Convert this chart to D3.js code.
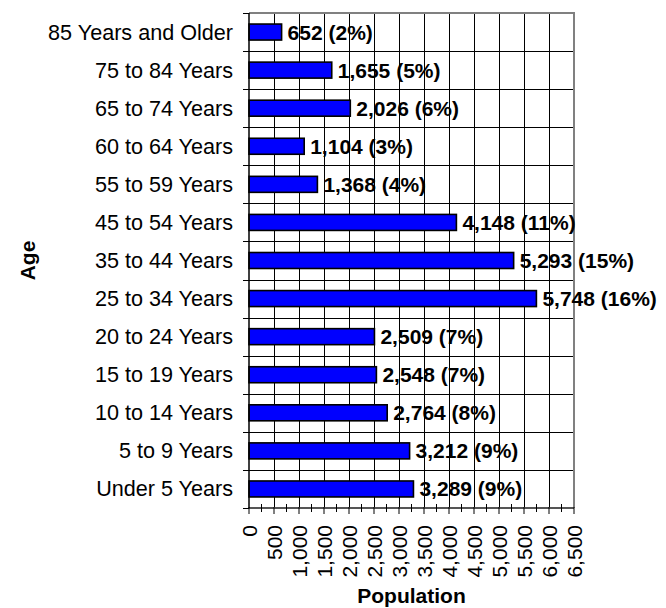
<!DOCTYPE html>
<html>
<head>
<meta charset="utf-8">
<script src="https://cdn.jsdelivr.net/npm/d3@7"></script>
<style>
  html, body { margin: 0; padding: 0; background: #fff; }
  svg { display: block; font-family: "Liberation Sans", Arial, sans-serif; }
</style>
</head>
<body>
<svg id="chart" width="666" height="608"></svg>
<script>
// Age groups, top to bottom
const categories = [
  "85 Years and Older", "75 to 84 Years", "65 to 74 Years", "60 to 64 Years",
  "55 to 59 Years", "45 to 54 Years", "35 to 44 Years", "25 to 34 Years",
  "20 to 24 Years", "15 to 19 Years", "10 to 14 Years", "5 to 9 Years", "Under 5 Years"
];
// Population per age group
const population = [652, 1655, 2026, 1104, 1368, 4148, 5293, 5748, 2509, 2548, 2764, 3212, 3289];
// Share of total population (%)
const percentShare = [2, 5, 6, 3, 4, 11, 15, 16, 7, 7, 8, 9, 9];
// Population axis ticks
const xTicks = [0, 500, 1000, 1500, 2000, 2500, 3000, 3500, 4000, 4500, 5000, 5500, 6000, 6500];
const xMinorTicks = [250, 750, 1250, 1750, 2250, 2750, 3250, 3750, 4250, 4750, 5250, 5750, 6250];

const plot = { left: 249, right: 574, top: 13, bottom: 508 };
const svg = d3.select("#chart");
const fmt = d3.format(",");

const x = d3.scaleLinear().domain([0, 6500]).range([plot.left, plot.right]);
const y = d3.scaleBand().domain(categories).range([plot.top, plot.bottom]).paddingInner(0.58).paddingOuter(0.29);
const yBand = d3.scaleBand().domain(categories).range([plot.top, plot.bottom]);

// Vertical gridlines at each major tick
svg.append("g")
  .selectAll("line").data(xTicks.slice(1, -1)).join("line")
  .attr("x1", d => x(d)).attr("x2", d => x(d))
  .attr("y1", plot.top).attr("y2", plot.bottom)
  .attr("stroke", "#000").attr("stroke-width", 1).attr("shape-rendering", "crispEdges");

// Horizontal gridlines at category boundaries
svg.append("g")
  .selectAll("line").data(categories.slice(1)).join("line")
  .attr("x1", plot.left).attr("x2", plot.right)
  .attr("y1", d => Math.round(yBand(d)) + 0.5).attr("y2", d => Math.round(yBand(d)) + 0.5)
  .attr("stroke", "#000").attr("stroke-width", 1);

// Plot frame, top and right
svg.append("path")
  .attr("d", `M${plot.left},${plot.top}H${plot.right}V${plot.bottom}`)
  .attr("fill", "none").attr("stroke", "#808080").attr("stroke-width", 2);

// Bars
svg.append("g")
  .selectAll("rect").data(categories).join("rect")
  .attr("x", x(0))
  .attr("y", d => y(d))
  .attr("width", (d, i) => x(population[i]) - x(0))
  .attr("height", y.bandwidth())
  .attr("fill", "#0000ff")
  .attr("stroke", "#000").attr("stroke-width", 1.6);

// Value labels
svg.append("g")
  .selectAll("text").data(categories).join("text")
  .attr("x", (d, i) => x(population[i]) + 6)
  .attr("y", d => yBand(d) + yBand.bandwidth() / 2 + 7.5)
  .attr("font-size", 21).attr("font-weight", "bold").attr("fill", "#000")
  .text((d, i) => `${fmt(population[i])} (${percentShare[i]}%)`);

// Bottom axis line and ticks
const xAxis = svg.append("g");
xAxis.append("line")
  .attr("x1", plot.left).attr("x2", plot.right)
  .attr("y1", plot.bottom).attr("y2", plot.bottom)
  .attr("stroke", "#555").attr("stroke-width", 2);
xAxis.selectAll("line.major").data(xTicks).join("line").attr("class", "major")
  .attr("x1", d => x(d)).attr("x2", d => x(d))
  .attr("y1", plot.bottom - 1).attr("y2", plot.bottom + 6)
  .attr("stroke", "#000").attr("stroke-width", 1);
xAxis.selectAll("line.minor").data(xMinorTicks).join("line").attr("class", "minor")
  .attr("x1", d => x(d)).attr("x2", d => x(d))
  .attr("y1", plot.bottom - 4).attr("y2", plot.bottom + 4)
  .attr("stroke", "#000").attr("stroke-width", 1);
xAxis.selectAll("text").data(xTicks).join("text")
  .attr("transform", d => `translate(${x(d) + 7.5},525) rotate(-90)`)
  .attr("text-anchor", "end")
  .attr("font-size", 21).attr("fill", "#000")
  .text(d => fmt(d));

// Left axis line, boundary ticks and category labels
const yAxis = svg.append("g");
yAxis.append("line")
  .attr("x1", plot.left).attr("x2", plot.left)
  .attr("y1", plot.top).attr("y2", plot.bottom)
  .attr("stroke", "#000").attr("stroke-width", 1.5);
yAxis.selectAll("line.tick").data(categories.concat(["__end"])).join("line").attr("class", "tick")
  .attr("x1", plot.left - 6).attr("x2", plot.left)
  .attr("y1", (d, i) => Math.round(plot.top + i * yBand.step()) + 0.5)
  .attr("y2", (d, i) => Math.round(plot.top + i * yBand.step()) + 0.5)
  .attr("stroke", "#000").attr("stroke-width", 1);
yAxis.selectAll("text").data(categories).join("text")
  .attr("x", 233)
  .attr("y", d => yBand(d) + yBand.bandwidth() / 2 + 7.5)
  .attr("text-anchor", "end")
  .attr("font-size", 21.6).attr("fill", "#000")
  .text(d => d);

// Axis titles
svg.append("text")
  .attr("x", (plot.left + plot.right) / 2).attr("y", 603)
  .attr("text-anchor", "middle").attr("font-size", 21).attr("font-weight", "bold")
  .text("Population");
svg.append("text")
  .attr("transform", `translate(35,${(plot.top + plot.bottom) / 2}) rotate(-90)`)
  .attr("text-anchor", "middle").attr("font-size", 21).attr("font-weight", "bold")
  .text("Age");
</script>
</body>
</html>
